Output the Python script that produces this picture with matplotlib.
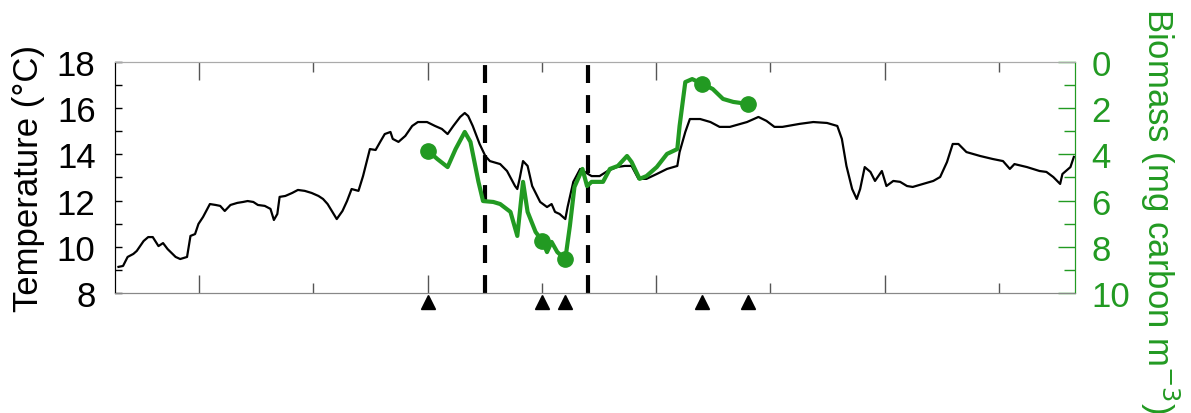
import numpy as np
import matplotlib.pyplot as plt
from matplotlib.ticker import MultipleLocator, FixedLocator

# temperature record (x in days along the transect)
temp_x = [0.3, 0.7, 1.1, 1.6, 1.9, 2.5, 2.9, 3.3, 3.8, 4.2, 4.6, 5.3, 5.7, 6.3, 6.6, 7.0,
          7.3, 7.7, 8.3, 8.8, 9.2, 9.6, 10.1, 10.7, 11.2, 11.6, 12.1, 12.5, 13.1, 13.6,
          13.9, 14.2, 14.4, 14.9, 15.5, 16.0, 16.6, 17.2, 17.8, 18.2, 18.6, 19.4, 19.9,
          20.3, 20.7, 21.3, 21.7, 22.3, 22.8, 23.2, 23.6, 24.1, 24.3, 24.8, 25.4, 26.0,
          26.5, 27.3, 28.0, 28.6, 29.1, 29.6, 30.2, 30.6, 30.9, 31.3, 31.9, 32.4, 32.8,
          33.7, 34.3, 35.0, 35.2, 35.4, 35.7, 36.1, 36.5, 37.2, 37.8, 38.2, 38.5, 38.9,
          39.4, 39.6, 40.1, 40.7, 41.1, 41.7, 42.4, 43.1, 43.9, 44.6, 45.2, 45.8, 46.5,
          47.4, 48.3, 49.2, 49.4, 49.9, 50.3, 51.2, 52.1, 52.9, 53.8, 55.3, 56.3, 57.0,
          57.7, 58.4, 59.9, 61.1, 62.3, 63.2, 63.6, 64.0, 64.5, 64.9, 65.2, 65.6, 66.1,
          66.5, 67.1, 67.5, 68.1, 68.7, 69.3, 69.8, 70.7, 71.6, 72.2, 72.8, 73.3, 73.8,
          74.5, 75.7, 76.8, 77.7, 78.3, 78.7, 79.8, 80.9, 81.5, 82.1, 82.7, 82.9, 83.6, 83.9]
temp_c = [9.13, 9.17, 9.56, 9.69, 9.82, 10.25, 10.42, 10.42, 10.03, 10.16, 9.90, 9.56, 9.47,
          9.56, 10.47, 10.55, 10.99, 11.29, 11.85, 11.81, 11.77, 11.55, 11.81, 11.90, 11.94,
          11.98, 11.94, 11.81, 11.77, 11.64, 11.16, 11.42, 12.16, 12.20, 12.33, 12.46, 12.42,
          12.33, 12.20, 12.07, 11.85, 11.20, 11.55, 11.98, 12.50, 12.42, 13.06, 14.23, 14.19,
          14.54, 14.88, 14.97, 14.67, 14.54, 14.80, 15.23, 15.40, 15.40, 15.23, 15.10, 14.88,
          15.23, 15.62, 15.79, 15.66, 15.23, 14.45, 13.93, 13.71, 13.58, 13.28, 12.63, 12.50,
          12.94, 13.71, 13.50, 12.63, 11.94, 11.72, 11.85, 11.51, 11.42, 11.20, 11.72, 12.81,
          13.37, 13.24, 13.06, 13.06, 13.28, 13.45, 13.50, 13.50, 12.94, 12.94, 13.15, 13.37,
          13.50, 14.10, 14.97, 15.53, 15.53, 15.40, 15.19, 15.19, 15.40, 15.62, 15.45, 15.19,
          15.19, 15.32, 15.40, 15.36, 15.23, 14.67, 13.50, 12.50, 12.07, 12.50, 13.45, 13.24,
          12.85, 13.28, 12.63, 12.85, 12.81, 12.63, 12.59, 12.72, 12.85, 13.02, 13.67, 14.45,
          14.45, 14.10, 13.93, 13.80, 13.71, 13.37, 13.58, 13.45, 13.28, 13.24, 13.02, 12.72,
          13.15, 13.45, 13.89]

# biomass trace
bio_x = [27.4, 28.2, 29.1, 29.8, 30.6, 31.1, 31.8, 32.2, 33.1, 33.7, 34.6, 35.2, 35.7, 36.1,
         36.8, 37.4, 37.8, 38.2, 38.7, 39.4, 39.8, 40.2, 40.9, 41.3, 41.7, 42.7, 43.3, 44.0,
         44.8, 45.2, 45.9, 46.5, 47.4, 48.3, 49.2, 49.4, 49.9, 50.5, 51.4, 52.3, 53.2, 54.1,
         55.4]
bio_mg = [3.85, 4.20, 4.55, 3.77, 3.03, 3.46, 5.19, 6.02, 6.06, 6.15, 6.49, 7.53, 5.19, 6.49,
          7.36, 7.75, 8.23, 7.79, 8.23, 8.53, 7.10, 5.41, 4.63, 5.37, 5.19, 5.19, 4.63, 4.50,
          4.07, 4.33, 5.06, 4.94, 4.55, 3.98, 3.77, 2.77, 0.87, 0.74, 0.95, 1.17, 1.60, 1.73,
          1.82]

# sampled stations
stn_x = [27.4, 37.4, 39.4, 51.4, 55.4]
stn_bio = [3.85, 7.75, 8.53, 0.95, 1.82]

front_x = [32.4, 41.4]

green = "#229a22"
plt.rcParams["font.family"] = ["Liberation Sans", "DejaVu Sans"]

fig = plt.figure(figsize=(11.91, 4.14), dpi=100)
ax = fig.add_axes([0.0966, 0.2899, 0.806, 0.558])
ax2 = ax.twinx()

ax.plot(temp_x, temp_c, color="black", lw=1.6, solid_joinstyle="round", zorder=3)
for xv in front_x:
    ax.axvline(xv, color="black", lw=3, linestyle=(0, (4.3, 2.9)), zorder=2)
ax.plot(stn_x, [7.61] * len(stn_x), "^", color="black", ms=10, clip_on=False, zorder=5)

ax2.plot(bio_x, bio_mg, color=green, lw=3, solid_joinstyle="round", zorder=3)
ax2.plot(stn_x, stn_bio, "o", color=green, ms=11, zorder=4)

ax.set_xlim(0, 84)
ax.set_ylim(8, 18)
ax2.set_ylim(10, 0)

ax.xaxis.set_major_locator(FixedLocator(np.arange(7.35, 84, 20)))
ax.xaxis.set_minor_locator(FixedLocator(np.arange(17.35, 84, 20)))
ax.set_xticklabels([])
ax.tick_params(axis="x", which="major", direction="in", length=13, width=1, top=True, color="#555555")
ax.tick_params(axis="x", which="minor", direction="in", length=7, width=1, top=True, color="#555555")

ax.yaxis.set_major_locator(MultipleLocator(2))
ax.yaxis.set_minor_locator(MultipleLocator(1))
ax.tick_params(axis="y", which="both", direction="in", length=5, width=1, labelsize=25, pad=14)

ax2.yaxis.set_major_locator(MultipleLocator(2))
ax2.yaxis.set_minor_locator(MultipleLocator(1))
ax2.tick_params(axis="y", which="major", direction="in", length=12, width=1, colors=green,
                labelsize=25, pad=12)
ax2.tick_params(axis="y", which="minor", direction="in", length=8, width=1, colors=green)

for a in (ax, ax2):
    a.spines["top"].set_color("#aaaaaa")
    a.spines["bottom"].set_color("#888888")
    a.spines["left"].set_color("black")
    a.spines["right"].set_color(green)

ax.set_ylabel("Temperature (°C)", fontsize=25, va="center")
ax.yaxis.set_label_coords(-0.0906, 0.5)
ax2.set_ylabel("Biomass (mg carbon m$^{-3}$)", fontsize=25, color=green, rotation=270,
               va="center", ha="center")
ax2.yaxis.set_label_coords(1.0885, 0.36)

fig.savefig("out.png", dpi=100)
